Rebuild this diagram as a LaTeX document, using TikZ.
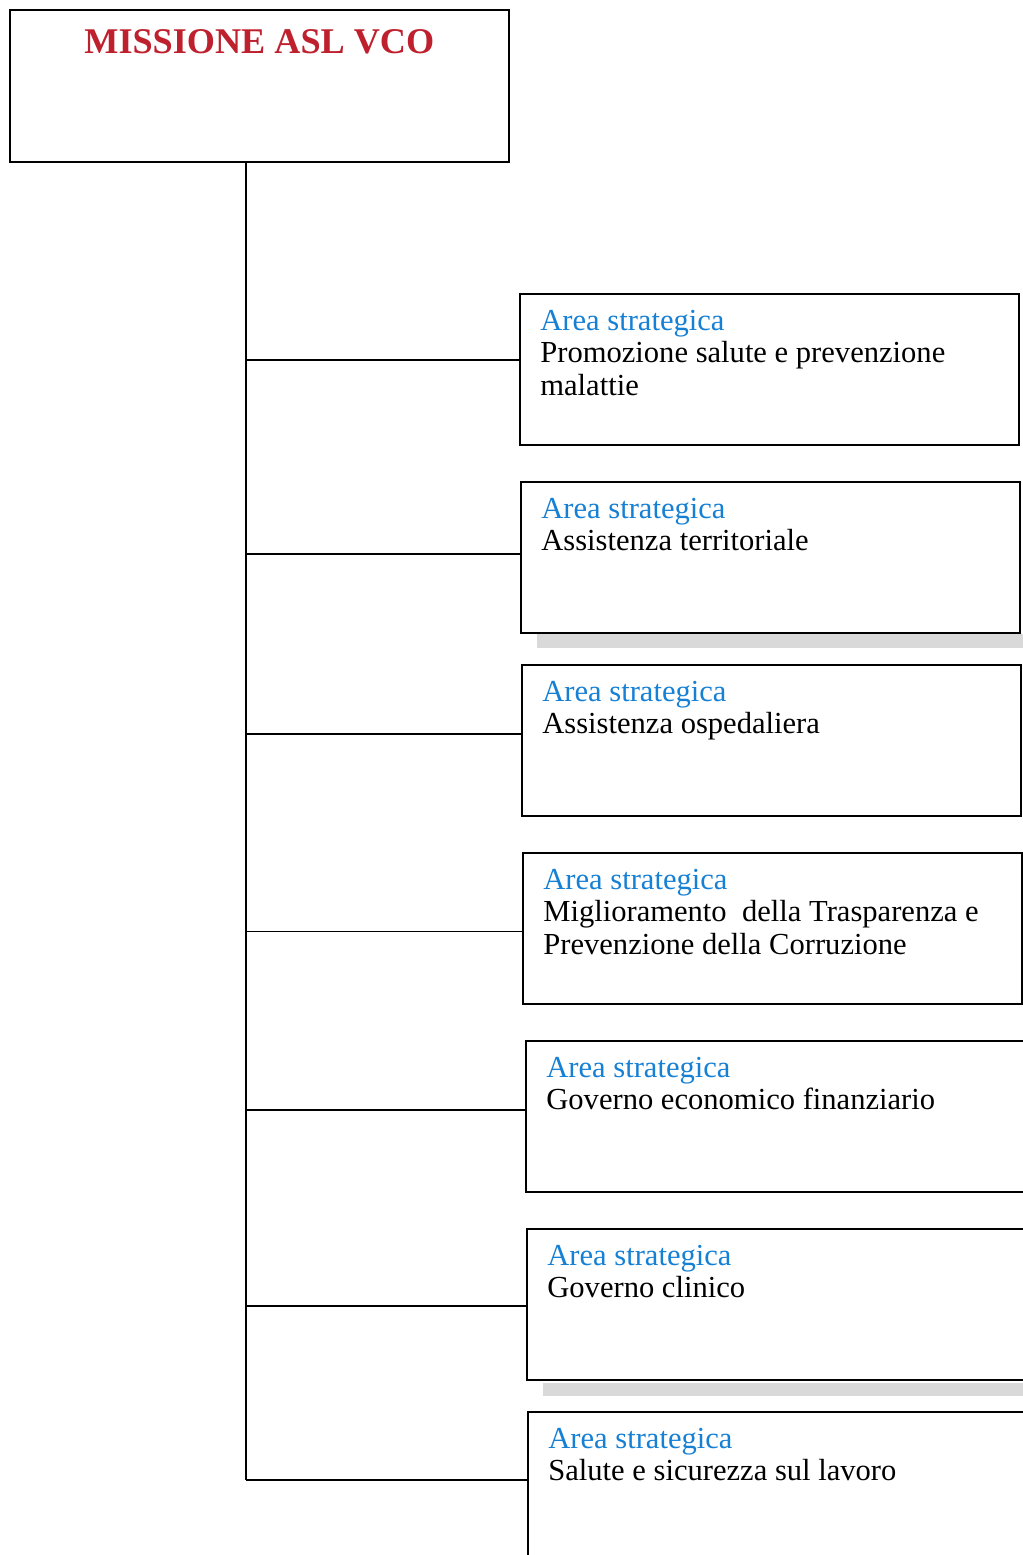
\documentclass[tikz,border=0pt]{standalone}
\usepackage{fontspec}
\setmainfont{Liberation Serif}
\usetikzlibrary{positioning}
\usetikzlibrary{calc}
\definecolor{missred}{RGB}{190,32,46}
\definecolor{areablue}{RGB}{22,128,212}

\begin{document}
\begin{tikzpicture}[x=0.02cm, y=-0.02cm]

% used shapes
\tikzstyle{bigbox} = [rectangle, draw, line width=1pt, anchor=north west, minimum width=9.98cm, minimum height=3.04cm, inner sep=0pt]
\tikzstyle{areabox} = [rectangle, draw, line width=1pt, anchor=north west, minimum width=9.98cm, minimum height=3.02cm, inner sep=0pt]
\tikzstyle{areatext} = [anchor=north west, inner sep=0pt, align=left, font=\fontsize{17.4}{18.4}\selectfont]
\tikzstyle{branch} = [line width=1pt]
\tikzstyle{scanband} = [fill=gray!30]

\useasboundingbox (0,0) rectangle (1023,1555);

% mission
\node [bigbox] (mission) at (9,9) {};
\node [anchor=base, text=missred, font=\bfseries\fontsize{20.6}{24}\selectfont] (title) at ($(mission.north)+(0,44)$) {MISSIONE ASL VCO};

% strategic areas
\node [areabox] (area1) at (519,293) {};
\node [areatext] (text1) at ($(area1.north west)+(21,17)$) {\textcolor{areablue}{Area strategica}\\Promozione salute e prevenzione\\malattie};

\node [areabox] (area2) at (520,481) {};
\node [areatext] (text2) at ($(area2.north west)+(21,17)$) {\textcolor{areablue}{Area strategica}\\Assistenza territoriale};

\node [areabox] (area3) at (521,664) {};
\node [areatext] (text3) at ($(area3.north west)+(21,17)$) {\textcolor{areablue}{Area strategica}\\Assistenza ospedaliera};

\node [areabox] (area4) at (522,852) {};
\node [areatext] (text4) at ($(area4.north west)+(21,17)$) {\textcolor{areablue}{Area strategica}\\Miglioramento\ \ della Trasparenza e\\Prevenzione della Corruzione};

\node [areabox] (area5) at (525,1040) {};
\node [areatext] (text5) at ($(area5.north west)+(21,17)$) {\textcolor{areablue}{Area strategica}\\Governo economico finanziario};

\node [areabox] (area6) at (526,1228) {};
\node [areatext] (text6) at ($(area6.north west)+(21,17)$) {\textcolor{areablue}{Area strategica}\\Governo clinico};

\node [areabox] (area7) at (527,1411) {};
\node [areatext] (text7) at ($(area7.north west)+(21,17)$) {\textcolor{areablue}{Area strategica}\\Salute e sicurezza sul lavoro};

% grey bands from the scan
\fill [scanband] (537,634) rectangle (1023,648);
\fill [scanband] (543,1383) rectangle (1023,1396);

% connectors
\coordinate (trunktop) at (246,161);
\coordinate (join1) at ($(area1.north west)!0.44!(area1.south west)$);
\coordinate (join2) at ($(area2.north west)!0.48!(area2.south west)$);
\coordinate (join3) at ($(area3.north west)!0.46!(area3.south west)$);
\coordinate (join4) at ($(area4.north west)!0.52!(area4.south west)$);
\coordinate (join5) at ($(area5.north west)!0.46!(area5.south west)$);
\coordinate (join6) at ($(area6.north west)!0.51!(area6.south west)$);
\coordinate (join7) at ($(area7.north west)!0.45!(area7.south west)$);

\draw [branch] (trunktop) -- (join7 -| trunktop);
\draw [branch] (join1 -| trunktop) -- (join1);
\draw [branch] (join2 -| trunktop) -- (join2);
\draw [branch] (join3 -| trunktop) -- (join3);
\draw [branch] (join4 -| trunktop) -- (join4);
\draw [branch] (join5 -| trunktop) -- (join5);
\draw [branch] (join6 -| trunktop) -- (join6);
\draw [branch] (join7 -| trunktop) -- (join7);

\end{tikzpicture}
\end{document}
